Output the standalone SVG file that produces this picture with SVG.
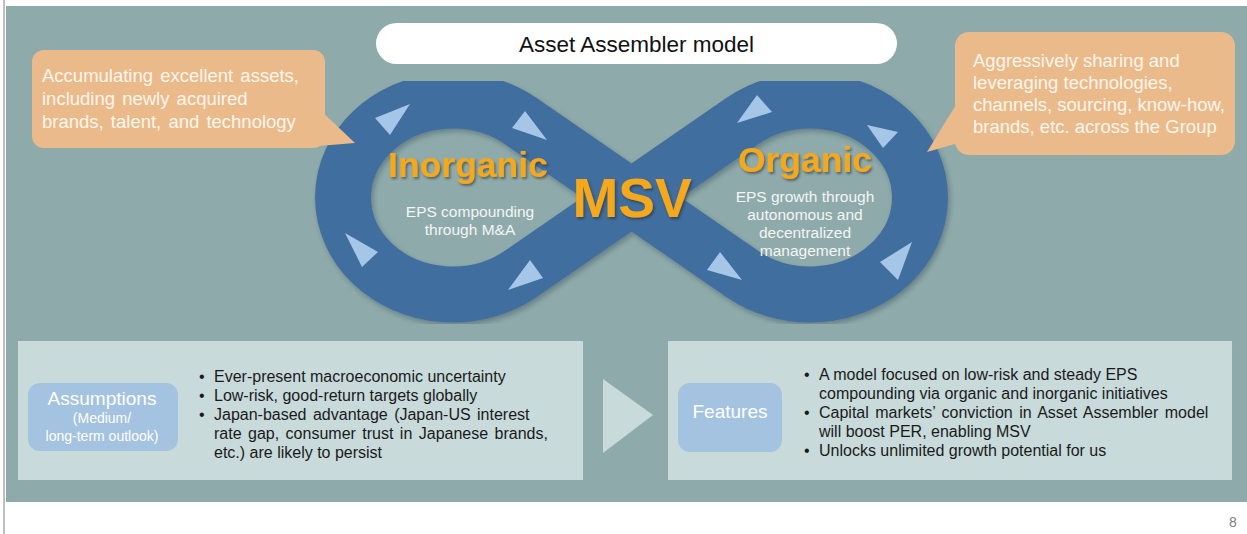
<svg xmlns="http://www.w3.org/2000/svg" width="1247" height="534" viewBox="0 0 1247 534">
  <defs>
    <style>
      text { font-family: "Liberation Sans", Arial, sans-serif; }
      .callout { fill: #EBBA8B; }
      .callout-text { fill: #FFF6EC; font-size: 18.5px; word-spacing: 2px; }
      .callout-text-r { fill: #FFF6EC; font-size: 18.5px; }
      .band { fill: none; stroke: #406E9E; stroke-width: 56; stroke-linejoin: round; }
      .flow { fill: #A5C6E6; }
      .big { font-weight: bold; fill: #F4A81F; text-anchor: middle; }
      .sub { fill: #F4F6F6; font-size: 15.5px; text-anchor: middle; }
      .panel { fill: #C8DADA; }
      .pill { fill: #A4C3E1; }
      .pill-text { fill: #FFFFFF; text-anchor: middle; }
      .bullet { fill: #1A1A1A; font-size: 16px; }
    </style>
    <filter id="bandShadow" x="-10%" y="-10%" width="120%" height="125%">
      <feDropShadow dx="2" dy="3" stdDeviation="2.5" flood-color="#1F3345" flood-opacity="0.35"/>
    </filter>
    <filter id="textShadow" x="-10%" y="-20%" width="120%" height="150%">
      <feDropShadow dx="1.5" dy="2" stdDeviation="1" flood-color="#2B2B2B" flood-opacity="0.55"/>
    </filter>
  </defs>

  <!-- page -->
  <rect x="0" y="0" width="1247" height="534" fill="#FFFFFF"/>
  <line x1="4" y1="0" x2="4" y2="534" stroke="#A8A8A8" stroke-width="1.5"/>
  <rect id="background" x="6" y="6" width="1241" height="496" fill="#8FAAAA"/>

  <!-- title -->
  <g id="title">
    <rect x="376" y="23" width="521" height="41" rx="20.5" fill="#FFFFFF"/>
    <text x="636.5" y="52" font-size="22.5" fill="#111111" text-anchor="middle">Asset Assembler model</text>
  </g>

  <!-- infinity loop -->
  <g id="loop">
    <path class="band" filter="url(#bandShadow)"
          d="M 520.8 121.1 A 110 97 0 1 0 520.8 273.9 L 742.2 121.1 A 110 97 0 1 1 742.2 273.9 Z"/>
    <g id="flow-marks">
      <polygon class="flow" points="375,118 410,104 390,135"/>
      <polygon class="flow" points="512,128 525,111 547,140"/>
      <polygon class="flow" points="345,233 378,252 362,267"/>
      <polygon class="flow" points="508,290 530,260 543,278"/>
      <polygon class="flow" points="737,123 757,95 772,112"/>
      <polygon class="flow" points="867,125 898,132 883,148"/>
      <polygon class="flow" points="707,270 720,252 742,280"/>
      <polygon class="flow" points="880,262 912,242 898,280"/>
    </g>
  </g>

  <!-- left loop label -->
  <g id="inorganic">
    <text class="big" x="468" y="177" font-size="35.5" filter="url(#textShadow)">Inorganic</text>
    <text class="sub" x="470" y="217">EPS compounding</text>
    <text class="sub" x="470" y="235">through M&amp;A</text>
  </g>

  <!-- centre label -->
  <g id="msv">
    <text class="big" x="632" y="217" font-size="55" filter="url(#textShadow)">MSV</text>
  </g>

  <!-- right loop label -->
  <g id="organic">
    <text class="big" x="805" y="172" font-size="35.5" filter="url(#textShadow)">Organic</text>
    <text class="sub" x="805" y="202">EPS growth through</text>
    <text class="sub" x="805" y="220">autonomous and</text>
    <text class="sub" x="805" y="238">decentralized</text>
    <text class="sub" x="805" y="256">management</text>
  </g>

  <!-- callouts -->
  <g id="callout-left">
    <rect class="callout" x="32" y="50" width="293" height="98" rx="12"/>
    <polygon class="callout" points="318,108 355,143 318,146"/>
    <text class="callout-text" x="42" y="82">Accumulating excellent assets,</text>
    <text class="callout-text" x="42" y="105">including newly acquired</text>
    <text class="callout-text" x="42" y="128">brands, talent, and technology</text>
  </g>

  <g id="callout-right">
    <rect class="callout" x="955" y="32" width="280" height="123" rx="14"/>
    <polygon class="callout" points="962,95 927,152 962,142"/>
    <text class="callout-text-r" x="973" y="67">Aggressively sharing and</text>
    <text class="callout-text-r" x="973" y="89">leveraging technologies,</text>
    <text class="callout-text-r" x="973" y="111">channels, sourcing, know-how,</text>
    <text class="callout-text-r" x="973" y="133">brands, etc. across the Group</text>
  </g>

  <!-- assumptions -->
  <g id="assumptions">
    <rect class="panel" x="18" y="341" width="565" height="139"/>
    <rect class="pill" x="28" y="383" width="150" height="68" rx="12"/>
    <text class="pill-text" x="102" y="405" font-size="19">Assumptions</text>
    <text class="pill-text" x="102" y="423" font-size="14">(Medium/</text>
    <text class="pill-text" x="102" y="441" font-size="14">long-term outlook)</text>
    <g class="bullet">
      <text x="199" y="382">•</text>
      <text x="214" y="382">Ever-present macroeconomic uncertainty</text>
      <text x="199" y="401">•</text>
      <text x="214" y="401">Low-risk, good-return targets globally</text>
      <text x="199" y="420">•</text>
      <text x="214" y="420" word-spacing="2">Japan-based advantage (Japan-US interest</text>
      <text x="214" y="439" word-spacing="2">rate gap, consumer trust in Japanese brands,</text>
      <text x="214" y="458">etc.) are likely to persist</text>
    </g>
  </g>

  <!-- connectors -->
  <g id="connectors">
    <polygon points="603,379 653,415 603,453" fill="#C8DADA"/>
  </g>

  <!-- features -->
  <g id="features">
    <rect class="panel" x="668" y="341" width="564" height="139"/>
    <rect class="pill" x="678" y="383" width="104" height="69" rx="12"/>
    <text class="pill-text" x="730" y="418" font-size="19">Features</text>
    <g class="bullet">
      <text x="804" y="380">•</text>
      <text x="819" y="380">A model focused on low-risk and steady EPS</text>
      <text x="819" y="399">compounding via organic and inorganic initiatives</text>
      <text x="804" y="418">•</text>
      <text x="819" y="418" word-spacing="2">Capital markets’ conviction in Asset Assembler model</text>
      <text x="819" y="437">will boost PER, enabling MSV</text>
      <text x="804" y="456">•</text>
      <text x="819" y="456">Unlocks unlimited growth potential for us</text>
    </g>
  </g>

  <!-- page number -->
  <text x="1233" y="527" font-size="14" fill="#808080" text-anchor="middle">8</text>
</svg>
